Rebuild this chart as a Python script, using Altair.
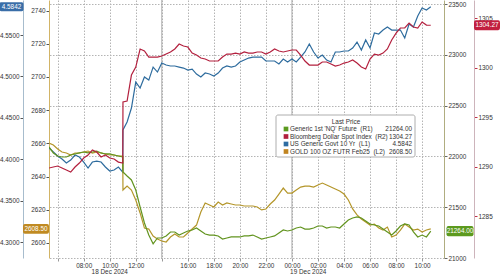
import altair as alt
import pandas as pd

# ---------------- data ----------------
# 20-minute samples, 18 Dec 2024 05:20 -> 19 Dec 2024 10:40, plus one print right after the 11:00 release
grid = pd.date_range("2024-12-18 05:20", "2024-12-19 10:40", freq="20min")
times = list(grid[:18]) + [pd.Timestamp("2024-12-18 11:01")] + list(grid[18:])

us10y = [
    4.4135, 4.4087, 4.4039, 4.4002, 4.3954, 4.3990, 4.4051, 4.4027, 4.3966, 4.3894,
    4.3966, 4.3978, 4.3966, 4.3906, 4.3857, 4.3870, 4.3906, 4.3845,
    4.4353,
    4.4449, 4.4618, 4.4932, 4.4860, 4.4993, 4.4956, 4.5113, 4.5053, 4.5162, 4.5138,
    4.5126, 4.5126, 4.5113, 4.5101, 4.5077, 4.5089, 4.5029, 4.4993, 4.5041, 4.5029,
    4.5005, 4.5041, 4.5101, 4.5126, 4.5113, 4.5126, 4.5174, 4.5198, 4.5222, 4.5234,
    4.5234, 4.5234, 4.5186, 4.5186, 4.5186, 4.5150, 4.5210, 4.5174, 4.5210, 4.5174,
    4.5234, 4.5295, 4.5391, 4.5295, 4.5222, 4.5258, 4.5198, 4.5174, 4.5295, 4.5295,
    4.5307, 4.5307, 4.5343, 4.5415, 4.5319, 4.5440, 4.5343, 4.5524, 4.5512, 4.5560,
    4.5597, 4.5560, 4.5560, 4.5560, 4.5464, 4.5633, 4.5597, 4.5729, 4.5826, 4.5802,
    4.5842,
]
dxy = [
    1289.85, 1289.95, 1290.05, 1289.85, 1289.65, 1289.44, 1289.95, 1290.35, 1290.86, 1291.16,
    1291.67, 1291.46, 1290.96, 1291.16, 1290.86, 1290.76, 1290.45, 1290.35,
    1296.52,
    1296.62, 1299.24, 1300.05, 1301.87, 1301.67, 1301.06, 1301.06, 1301.06, 1301.16, 1301.36,
    1301.57, 1301.87, 1302.37, 1302.17, 1302.07, 1301.46, 1301.26, 1300.96, 1300.86, 1300.66,
    1300.66, 1300.66, 1301.06, 1301.36, 1301.36, 1301.46, 1301.36, 1301.57, 1301.46, 1301.46,
    1301.57, 1301.57, 1301.36, 1301.57, 1301.87, 1301.67, 1301.57, 1301.67, 1301.77, 1301.77,
    1301.26, 1300.66, 1300.25, 1300.25, 1300.25, 1300.56, 1300.56, 1300.35, 1300.15, 1300.25,
    1300.45, 1300.56, 1300.76, 1300.45, 1300.05, 1299.85, 1300.86, 1301.36, 1301.26, 1301.46,
    1301.87, 1302.78, 1303.48, 1303.99, 1303.99, 1304.49, 1304.09, 1303.99, 1304.60, 1304.29,
    1304.27,
]
gold = [
    2660.2, 2659.0, 2656.6, 2654.8, 2654.2, 2653.0, 2654.2, 2654.2, 2654.8, 2655.4,
    2654.2, 2654.8, 2654.2, 2653.6, 2653.0, 2653.0, 2652.4, 2652.4,
    2631.9,
    2634.3, 2631.9, 2625.9, 2618.1, 2609.0, 2608.4, 2604.2, 2602.4, 2601.2, 2600.6,
    2603.6, 2605.4, 2603.6, 2603.6, 2606.0, 2608.4, 2610.8, 2618.7, 2624.1, 2622.9,
    2621.7, 2624.7, 2622.9, 2624.1, 2623.5, 2622.9, 2622.9, 2622.3, 2622.3, 2622.3,
    2621.7, 2619.9, 2620.5, 2623.5, 2625.9, 2629.5, 2633.1, 2630.1, 2630.1, 2631.9,
    2633.7, 2634.3, 2634.3, 2633.7, 2634.9, 2636.1, 2634.9, 2633.7, 2632.5, 2631.3,
    2629.5, 2625.9, 2620.5, 2616.9, 2614.5, 2612.7, 2610.8, 2611.4, 2609.0, 2607.8,
    2609.6, 2603.6, 2604.8, 2607.8, 2611.4, 2609.6, 2607.8, 2608.4, 2606.6, 2607.8,
    2608.5,
]
nq = [
    22093, 22034, 22004, 21994, 21994, 22014, 22024, 22034, 22043, 22034,
    22043, 22053, 22034, 22024, 22024, 22014, 22004, 21994,
    21847,
    21807, 21768, 21669, 21502, 21345, 21226, 21140, 21197, 21197, 21217,
    21256, 21256, 21226, 21246, 21266, 21276, 21295, 21266, 21236, 21226,
    21226, 21217, 21187, 21197, 21207, 21207, 21207, 21217, 21217, 21226,
    21207, 21187, 21197, 21207, 21217, 21246, 21276, 21266, 21276, 21295,
    21305, 21285, 21285, 21295, 21315, 21315, 21295, 21305, 21305, 21295,
    21335, 21374, 21394, 21404, 21394, 21364, 21335, 21325, 21315, 21285,
    21256, 21226, 21266, 21315, 21335, 21325, 21256, 21207, 21226, 21207,
    21264,
]

legend_names = [
    "Generic 1st 'NQ' Future \u00a0(R1)",
    "Bloomberg Dollar Spot Index \u00a0(R2)",
    "US Generic Govt 10 Yr \u00a0(L1)",
    "GOLD 100 OZ FUTR Feb25 \u00a0(L2)",
]
legend_colors = ["#5a9a1e", "#b11f3e", "#2d6ca2", "#c08420"]
last_prices = [f"{nq[-1]:.2f}", f"{dxy[-1]:.2f}", f"{us10y[-1]:.4f}", f"{gold[-1]:.2f}"]

l1_ticks = [4.30, 4.35, 4.40, 4.45, 4.50, 4.55]
l2_ticks = [2600, 2620, 2640, 2660, 2680, 2700, 2720, 2740]
r1_ticks = [21000, 21500, 22000, 22500, 23000, 23500]
r2_ticks = [1285, 1290, 1295, 1300, 1305]

day_labels = ["18 Dec 2024", "19 Dec 2024"]
day_label_times = ["2024-12-18T10:00:00", "2024-12-19T01:15:00"]
separator_times = ["2024-12-18T14:00:00", "2024-12-19T00:00:00"]

# ---------------- chart ----------------
W, H = 395, 258
FONT = "Liberation Sans"
FS = 6.4
TXT = "#333333"
GRID = "#b4b4b4"
DASH = [1.5, 1.5]

df = pd.DataFrame({
    "t": [t.strftime("%Y-%m-%dT%H:%M:%S") for t in times],
    "nq": nq, "dxy": dxy, "us10y": us10y, "gold": gold,
})

xdom = [alt.DateTime(year=2024, month=12, date=18, hours=5, minutes=20),
        alt.DateTime(year=2024, month=12, date=19, hours=11, minutes=41)]
tick_times = pd.date_range("2024-12-18 06:00", "2024-12-19 10:00", freq="2h")
xvals = [alt.DateTime(year=2024, month=12, date=int(t.day), hours=int(t.hour)) for t in tick_times]

X = alt.X(
    "t:T", title=None, scale=alt.Scale(domain=xdom),
    axis=alt.Axis(
        values=xvals,
        labelExpr="date(datum.value) == 18 && (hours(datum.value) == 6 || hours(datum.value) == 14) ? '' : timeFormat(datum.value, '%H:%M')",
        grid=True, gridDash=DASH, gridColor=GRID, domain=False,
        tickSize=3, tickColor="#999999", labelPadding=1, labelFlush=False,
        labelFont=FONT, labelFontSize=FS, labelColor=TXT,
    ),
)


def yaxis(orient, offset, values, fmt, dcolor, tcolor, grid=False):
    kw = dict(orient=orient, offset=offset, values=values, format=fmt,
              domainColor=dcolor, tickColor=tcolor, tickSize=3, labelPadding=1,
              labelFont=FONT, labelFontSize=FS, labelColor=TXT, grid=grid)
    if grid:
        kw.update(gridDash=DASH, gridColor=GRID)
    return alt.Axis(**kw)


BADGE = ("M-1,-0.22 Q-1,-0.38 -0.86,-0.38 L0.86,-0.38 Q1,-0.38 1,-0.22 "
         "L1,0.22 Q1,0.38 0.86,0.38 L-0.86,0.38 Q-1,0.38 -1,0.22 Z")


def series(field, color, axis, dom, fmt, bx, bcolor, bw):
    Y = alt.Y(f"{field}:Q", title=None,
              scale=alt.Scale(domain=dom, nice=False, zero=False), axis=axis)
    line = alt.Chart(df).mark_line(color=color, strokeWidth=1.2, clip=True).encode(x=X, y=Y)
    last = alt.Chart(df.tail(1))
    badge = last.mark_point(shape=BADGE, size=bw * bw, filled=True, fill=bcolor,
                            opacity=1, strokeWidth=0).encode(x=alt.value(bx), y=Y)
    label = last.mark_text(color="white", font=FONT, fontSize=FS, align="center",
                           baseline="middle").encode(
        x=alt.value(bx), y=Y, text=alt.Text(f"{field}:Q", format=fmt))
    return alt.layer(line, badge, label)


s_us = series("us10y", "#2e6c9e",
              yaxis("left", 26, l1_ticks, ".4f", "#a7bccd", "#555555"),
              [4.2807, 4.5923], ".4f", -37.5, "#3a6ea8", 24)
s_gold = series("gold", "#b4962a",
                yaxis("left", 0, l2_ticks, "d", "#d2b466", "#555555"),
                [2590.96, 2746.38], ".2f", -13, "#c08a22", 26)
s_nq = series("nq", "#62941f",
              yaxis("right", 0, r1_ticks, "d", "#b0ad80", "#666666", grid=True),
              [21000, 23539.5], ".2f", 411, "#5c9a1e", 27)
s_dxy = series("dxy", "#b3203e",
               yaxis("right", 30, r2_ticks, "d", "#cdb4bb", "#c0304a"),
               [1280.76, 1306.82], ".2f", 438, "#c21f3f", 26)

seps = alt.Chart(pd.DataFrame({"t": separator_times})).mark_rule(
    color="#a4a4a4", strokeWidth=0.9).encode(x=X)

days = alt.Chart(pd.DataFrame({"t": day_label_times, "label": day_labels})).mark_text(
    font=FONT, fontSize=FS, color=TXT, baseline="middle").encode(
    x=X, y=alt.value(272), text="label:N")

leg_df = pd.DataFrame({"name": legend_names, "val": last_prices})
LY = alt.Y("name:N", scale=alt.Scale(domain=legend_names, range=[129, 151.5], padding=0), axis=None)
box = alt.Chart(pd.DataFrame({"a": [0]})).mark_rect(
    fill="white", stroke="#9a9a9a", strokeWidth=0.8, cornerRadius=2).encode(
    x=alt.value(227), x2=alt.value(366), y=alt.value(115), y2=alt.value(157))
ltitle = alt.Chart(pd.DataFrame({"a": [0]})).mark_text(
    text="Last Price", font=FONT, fontSize=FS, color=TXT, baseline="middle").encode(
    x=alt.value(297), y=alt.value(122))
sq = alt.Chart(leg_df).mark_square(size=22, opacity=1, filled=True).encode(
    x=alt.value(237), y=LY,
    color=alt.Color("name:N", scale=alt.Scale(domain=legend_names, range=legend_colors), legend=None))
names_t = alt.Chart(leg_df).mark_text(
    align="left", baseline="middle", font=FONT, fontSize=FS, color=TXT).encode(
    x=alt.value(241), y=LY, text="name:N")
vals_t = alt.Chart(leg_df).mark_text(
    align="right", baseline="middle", font=FONT, fontSize=FS, color=TXT).encode(
    x=alt.value(363), y=LY, text="val:N")
legend = alt.layer(box, ltitle, sq, names_t, vals_t)

chart = alt.layer(seps, s_us, s_gold, s_nq, s_dxy, days, legend).resolve_scale(
    y="independent"
).properties(
    width=W, height=H,
    autosize=alt.AutoSizeParams(type="none"),
    padding={"left": 49, "top": 0, "right": 56, "bottom": 19},
    background="white",
).configure_view(stroke=None)

chart.save("out.html", embed_options={"renderer": "svg", "actions": False})
